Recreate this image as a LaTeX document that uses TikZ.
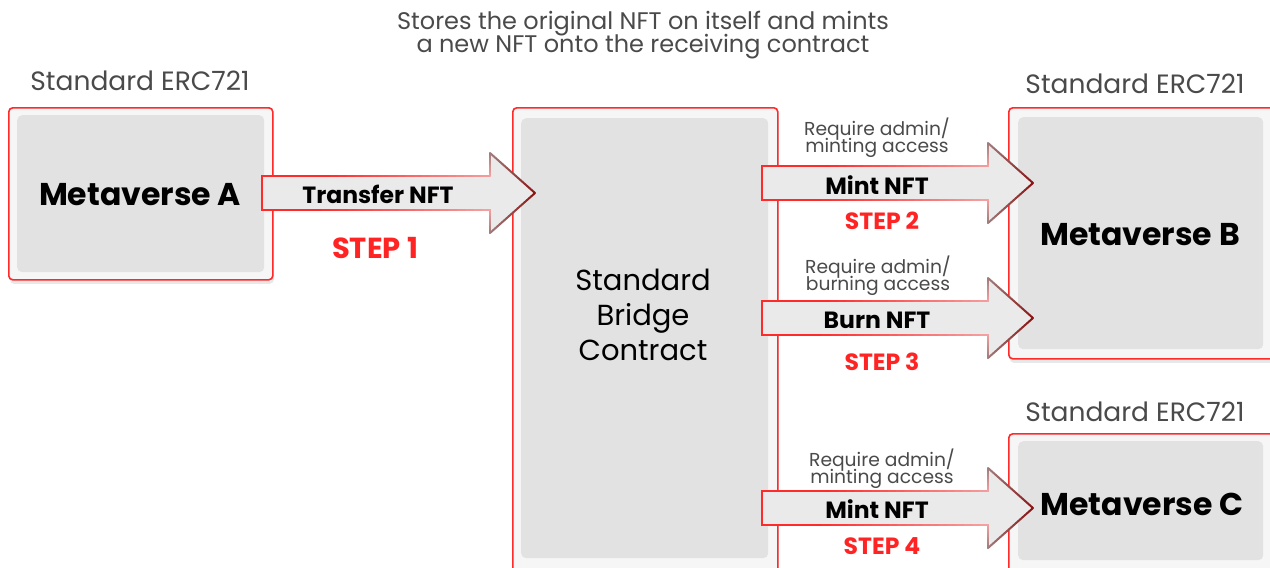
\documentclass[tikz,border=0pt]{standalone}
\usepackage{fontspec}
\setmainfont{Poppins}
\usetikzlibrary{shadows,calc}
\definecolor{fr}{HTML}{FF2A2A}
\definecolor{dr}{HTML}{8B1414}
\definecolor{gm}{HTML}{A07C7C}
\definecolor{pk}{HTML}{F4A0A0}
\definecolor{gr}{HTML}{EAEAEA}
\definecolor{innerc}{HTML}{E2E2E2}
\definecolor{outerc}{HTML}{F6F6F6}
\definecolor{tx}{HTML}{4A4A4A}
\definecolor{stepc}{HTML}{FF2424}
\newcommand\gseg[6]{%
  \foreach \i in {0,...,19}{%
    \pgfmathtruncatemacro\p{100-\i*5}%
    \draw[line width=2pt, line cap=round, color=#5!\p!#6] ($(#1,#2)!{\i/20}!(#3,#4)$) -- ($(#1,#2)!{(\i+1)/20}!(#3,#4)$);
  }%
}
% x0, xb, xt, yc
\newcommand\barrow[4]{%
  \fill[gr] (#1,#4-17) -- (#2,#4-17) -- (#2,#4-40) -- (#3,#4) -- (#2,#4+40) -- (#2,#4+17) -- (#1,#4+17) -- cycle;
  \draw[fr, line width=2pt, line join=miter] (#1+60,#4-17) -- (#1,#4-17) -- (#1,#4+17) -- (#1+60,#4+17);
  \gseg{#1+60}{#4-17}{#2}{#4-17}{fr}{pk}
  \gseg{#2}{#4-17}{#2}{#4-40}{pk}{gm}
  \gseg{#2}{#4-40}{#3}{#4}{gm}{dr}
  \gseg{#3}{#4}{#2}{#4+40}{dr}{gm}
  \gseg{#2}{#4+40}{#2}{#4+17}{gm}{pk}
  \gseg{#2}{#4+17}{#1+60}{#4+17}{pk}{fr}
}
\begin{document}
\begin{tikzpicture}[x=1pt,y=-1pt,
  frame/.style={draw=fr, line width=1.6pt, fill=outerc, rounded corners=4pt, anchor=north west, inner sep=0pt,
     drop shadow={opacity=0.18, shadow xshift=1pt, shadow yshift=-4pt}},
  innerb/.style={fill=innerc, rounded corners=5pt, anchor=north west, inner sep=0pt},
  big/.style={font=\fontsize{31.5}{34}\selectfont\bfseries},
  std/.style={font=\fontsize{26.5}{28}\selectfont, text=tx},
  lbl/.style={font=\fontsize{23.5}{26}\selectfont\bfseries},
  req/.style={font=\fontsize{18.7}{16}\selectfont, text=tx, align=center},
  stepl/.style={font=\fontsize{23.5}{26}\selectfont\bfseries, text=stepc},
]
\useasboundingbox[fill=white] (0,0) rectangle (1270,568);

\node[font=\fontsize{24}{23}\selectfont, text=tx, align=center] (title) at (643,35)
  {Stores the original NFT on itself and mints\\[-2pt]a new NFT onto the receiving contract};

% boxes
\node[frame, minimum width=264pt, minimum height=172pt] (Af) at (8,107) {};
\node[innerb, minimum width=247pt, minimum height=157pt] (Ai) at (17,115) {};
\node[big] (A) at (140,195) {Metaverse A};
\node[std] (Astd) at (140,81) {Standard ERC721};

\node[frame, minimum width=265pt, minimum height=480pt] (Sf) at (512,107) {};
\node[innerb, minimum width=247pt, minimum height=440pt] (Si) at (521,118) {};
\node[font=\fontsize{29}{35}\selectfont, align=center] (S) at (643,315) {Standard\\Bridge\\Contract};

\node[frame, minimum width=280pt, minimum height=251pt] (Bf) at (1008,107) {};
\node[innerb, minimum width=245pt, minimum height=232pt] (Bi) at (1018,117) {};
\node[big] (B) at (1140,235) {Metaverse B};
\node[std] (Bstd) at (1135,84) {Standard ERC721};

\node[frame, minimum width=280pt, minimum height=150pt] (Cf) at (1008,433) {};
\node[innerb, minimum width=245pt, minimum height=119pt] (Ci) at (1018,441) {};
\node[big] (C) at (1142,504) {Metaverse C};
\node[std] (Cstd) at (1135,412) {Standard ERC721};

% arrows
\barrow{262}{490}{535}{193}
\node[lbl] (t1) at (378,194) {Transfer NFT};
\node[stepl, font=\fontsize{29}{30}\selectfont\bfseries] (s1) at (375,248) {STEP 1};

\barrow{762}{988}{1033}{183}
\node[lbl] (t2) at (877,185) {Mint NFT};
\node[req] (r2) at (877,138) {Require admin/\\[-3pt]minting access};
\node[stepl] (s2) at (882,221) {STEP 2};

\barrow{762}{988}{1033}{318}
\node[lbl] (t3) at (877,320) {Burn NFT};
\node[req] (r3) at (878,276) {Require admin/\\[-3pt]burning access};
\node[stepl] (s3) at (882,362) {STEP 3};

\barrow{762}{988}{1033}{508}
\node[lbl] (t4) at (877,509) {Mint NFT};
\node[req] (r4) at (882,469) {Require admin/\\[-3pt]minting access};
\node[stepl] (s4) at (882,546) {STEP 4};
\end{tikzpicture}
\end{document}
